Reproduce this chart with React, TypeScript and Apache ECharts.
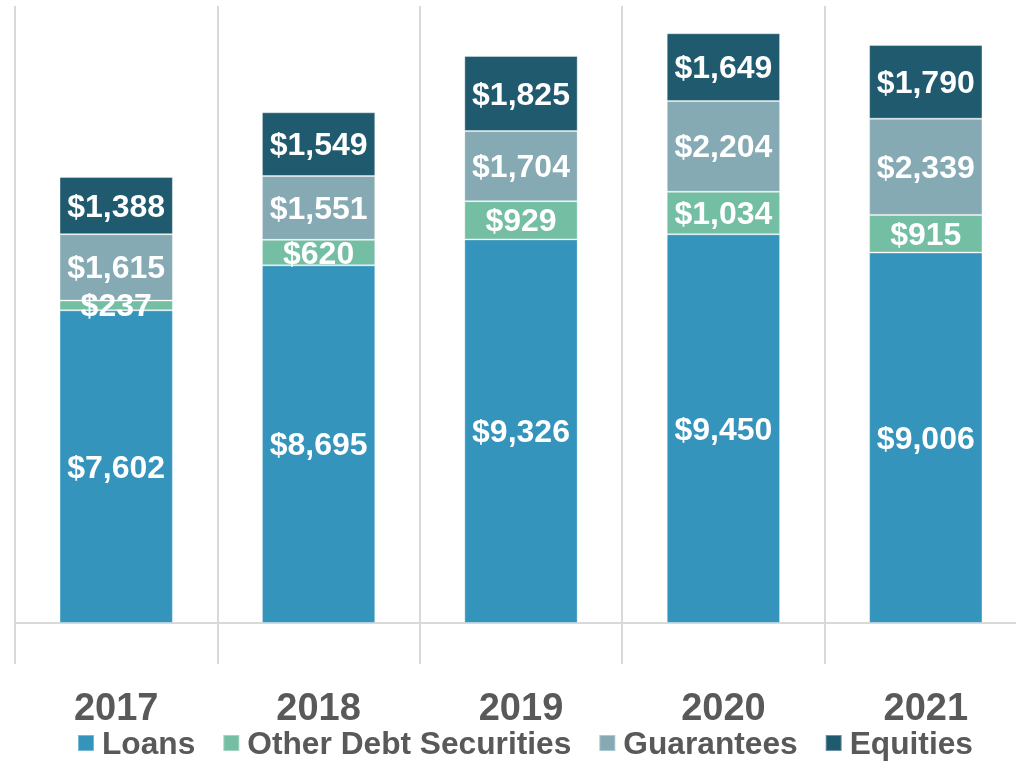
import React, { useEffect, useRef } from "react";
import * as echarts from "echarts";

const years = ["2017", "2018", "2019", "2020", "2021"];
const loans = [7602, 8695, 9326, 9450, 9006];
const otherDebt = [237, 620, 929, 1034, 915];
const guarantees = [1615, 1551, 1704, 2204, 2339];
const equities = [1388, 1549, 1825, 1649, 1790];

const seriesNames = ["Loans", "Other Debt Securities", "Guarantees", "Equities"];
const seriesColors = ["#3594BC", "#74BEA4", "#85AAB4", "#1F5A6E"];
const seriesData = [loans, otherDebt, guarantees, equities];

const FONT = "Arial, 'Liberation Sans', sans-serif";

export default function App() {
  const ref = useRef<HTMLDivElement>(null);
  useEffect(() => {
    if (!ref.current) return;
    const chart = echarts.init(ref.current, null, { renderer: "svg" });
    chart.setOption({
      animation: false,
      grid: { left: 15, right: -11, top: 6, bottom: 138, outerBoundsMode: "none", containLabel: false },
      legend: {
        data: seriesNames,
        left: 77,
        top: 727,
        padding: 0,
        icon: "rect",
        itemWidth: 16,
        itemHeight: 16,
        itemGap: 27,
        textStyle: { fontSize: 31.7, fontWeight: "bold", color: "#595959", fontFamily: FONT, padding: [0, 0, 0, 3] },
      },
      xAxis: {
        type: "category",
        data: years,
        boundaryGap: true,
        axisLine: { show: true, lineStyle: { color: "#D9D9D9", width: 2 } },
        axisTick: { show: true, length: 41, lineStyle: { color: "#D9D9D9", width: 2 } },
        splitLine: { show: true, lineStyle: { color: "#D9D9D9", width: 2 } },
        axisLabel: {
          fontSize: 38,
          fontWeight: "bold",
          color: "#595959",
          fontFamily: FONT,
          margin: 65,
        },
      },
      yAxis: {
        type: "value",
        min: 0,
        max: 15000,
        show: false,
        splitLine: { show: false },
      },
      series: seriesData.map((d, i) => ({
        name: seriesNames[i],
        type: "bar",
        stack: "total",
        data: d,
        barWidth: "56%",
        itemStyle: { color: seriesColors[i], borderColor: "rgba(255,255,255,0.35)", borderWidth: 1 },
        label: {
          show: true,
          position: "inside",
          color: "#FFFFFF",
          fontSize: 32,
          fontWeight: "bold",
          fontFamily: FONT,
          formatter: (p: any) => "$" + Number(p.value).toLocaleString("en-US"),
        },
      })),
    });
    return () => chart.dispose();
  }, []);
  return (
    <div
      ref={ref}
      style={{ position: "fixed", left: 0, top: 0, width: 1016, height: 761 }}
    />
  );
}
